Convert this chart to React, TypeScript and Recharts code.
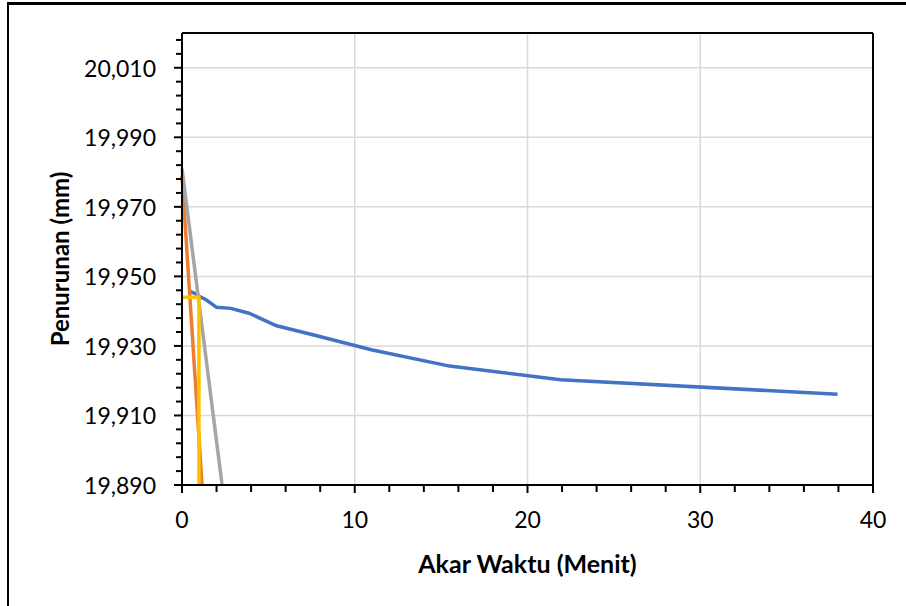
import { LineChart, Line, XAxis, YAxis, CartesianGrid, ReferenceLine } from "recharts";

// sqrt(time) readings and settlement (mm)
const blueX = [0.5, 0.707, 1, 1.414, 2, 2.828, 3.873, 5.477, 7.746, 10.954, 15.49, 21.909, 37.947];
const blueY = [19.9456, 19.9452, 19.9443, 19.9432, 19.9411, 19.9408, 19.9394, 19.9358, 19.933, 19.9289, 19.9242, 19.9203, 19.9161];

// construction lines
const orangeX = [0, 1.16];
const orangeY = [19.979, 19.89];
const grayX = [0, 2.32];
const grayY = [19.981, 19.89];
const yellowX = [0, 0.98, 0.98];
const yellowY = [19.944, 19.944, 19.89];

const xTicks = [0, 2, 4, 6, 8, 10, 12, 14, 16, 18, 20, 22, 24, 26, 28, 30, 32, 34, 36, 38, 40];
const xMajor = [0, 10, 20, 30, 40];
const yTicks = [
  19.89, 19.894, 19.898, 19.902, 19.906, 19.91, 19.914, 19.918, 19.922, 19.926, 19.93,
  19.934, 19.938, 19.942, 19.946, 19.95, 19.954, 19.958, 19.962, 19.966, 19.97, 19.974,
  19.978, 19.982, 19.986, 19.99, 19.994, 19.998, 20.002, 20.006, 20.01, 20.014, 20.018,
];
const yMajor = [19.89, 19.91, 19.93, 19.95, 19.97, 19.99, 20.01];

const FONT = "Lato, 'Open Sans', sans-serif";

const pts = (xs: number[], ys: number[]) => xs.map((x, i) => ({ x, y: ys[i] }));
const isMajor = (list: number[], v: number) => list.some((m) => Math.abs(m - v) < 1e-6);
const fmtY = (v: number) => v.toFixed(3).replace(".", ",");

const YTick = (props: any) => {
  const { x, y, payload } = props;
  const major = isMajor(yMajor, payload.value);
  return (
    <g>
      <line x1={x - (major ? 8 : 6)} x2={x} y1={y} y2={y} stroke="#000" strokeWidth={2} />
      {major && (
        <text x={x - 26} y={y} textAnchor="end" dominantBaseline="central" fontFamily={FONT} fontSize={23} fill="#000">
          {fmtY(payload.value)}
        </text>
      )}
    </g>
  );
};

const XTick = (props: any) => {
  const { x, y, payload } = props;
  const major = isMajor(xMajor, payload.value);
  return (
    <g>
      <line x1={x} x2={x} y1={y} y2={y + (major ? 8 : 7)} stroke="#000" strokeWidth={2} />
      {major && (
        <text x={x} y={y + 34} textAnchor="middle" dominantBaseline="central" fontFamily={FONT} fontSize={23} fill="#000">
          {payload.value}
        </text>
      )}
    </g>
  );
};

export default function App() {
  const lineProps = { dataKey: "y", dot: false, isAnimationActive: false, strokeWidth: 3.5, type: "linear" as const };
  return (
    <div style={{ position: "absolute", left: 0, top: 0, width: 906, height: 606, overflow: "hidden", background: "#fff" }}>
      <div
        style={{
          position: "absolute",
          left: 7,
          top: 2,
          width: 1000,
          height: 700,
          borderLeft: "2px solid #000",
          borderTop: "3px solid #000",
        }}
      />
      <div style={{ position: "absolute", left: 0, top: 0 }}>
        <LineChart width={906} height={606} margin={{ top: 33, right: 33, bottom: 0, left: 0 }}>
          <CartesianGrid
            horizontalValues={yMajor}
            verticalValues={[10, 20, 30]}
            stroke="#d9d9d9"
            strokeWidth={1.5}
          />
          <XAxis
            dataKey="x"
            type="number"
            domain={[0, 40]}
            ticks={xTicks}
            interval={0}
            height={121}
            tickSize={0}
            tickMargin={0}
            tickLine={false}
            tick={<XTick />}
            axisLine={{ stroke: "#000", strokeWidth: 2 }}
            label={{
              value: "Akar Waktu (Menit)",
              position: "insideBottom",
              offset: 33,
              style: { fontFamily: FONT, fontSize: 25, fontWeight: 700, fill: "#000" },
            }}
          />
          <YAxis
            type="number"
            domain={[19.89, 20.02]}
            allowDataOverflow
            ticks={yTicks}
            interval={0}
            width={182}
            tickSize={0}
            tickMargin={0}
            tickLine={false}
            tick={<YTick />}
            axisLine={{ stroke: "#000", strokeWidth: 2 }}
            label={{
              value: "Penurunan (mm)",
              angle: -90,
              position: "insideLeft",
              offset: 60,
              style: { fontFamily: FONT, fontSize: 24, fontWeight: 700, fill: "#000", textAnchor: "middle" },
            }}
          />
          <ReferenceLine y={20.02} stroke="#000" strokeWidth={2} />
          <ReferenceLine x={40} stroke="#000" strokeWidth={2} />
          <Line {...lineProps} data={pts(blueX, blueY)} stroke="#4472C4" />
          <Line {...lineProps} data={pts(orangeX, orangeY)} stroke="#ED7D31" />
          <Line {...lineProps} data={pts(grayX, grayY)} stroke="#A5A5A5" />
          <Line {...lineProps} data={pts(yellowX, yellowY)} stroke="#FFC000" />
        </LineChart>
      </div>
    </div>
  );
}
